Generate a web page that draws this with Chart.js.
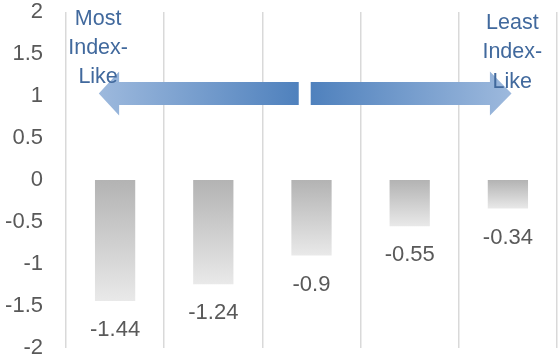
<!DOCTYPE html>
<html>
<head>
<meta charset="utf-8">
<script src="https://cdn.jsdelivr.net/npm/chart.js@4"></script>
<style>
  html, body { margin: 0; padding: 0; background: #fff; }
  #wrap { width: 558px; height: 358px; }
</style>
</head>
<body>
<div id="wrap"><canvas id="chart"></canvas></div>
<script>
const categories = ["Q1", "Q2", "Q3", "Q4", "Q5"];
const scores = [-1.44, -1.24, -0.9, -0.55, -0.34];
const yMin = -2;
const yMax = 2;
const yStep = 0.5;
const leftLabel = ["Most", "Index-", "Like"];
const rightLabel = ["Least", "Index-", "Like"];

const FONT = '"Liberation Sans", Arial, sans-serif';
const TEXT_GREY = "#595959";
const LABEL_BLUE = "#41699d";

// arrows are placed in axis units (x = category index, y = value)
const arrows = [
  { tip: -0.166, headBase: 0.041, tail: 1.87, y: 1.03, body: 0.137, head: 0.262 },
  { tip: 4.037, headBase: 3.817, tail: 1.992, y: 1.03, body: 0.137, head: 0.262 }
];
const captions = [
  { x: -0.173, lines: leftLabel, ys: [1.94, 1.59, 1.24] },
  { x: 4.045, lines: rightLabel, ys: [1.887, 1.542, 1.19] }
];

const overlay = {
  id: "overlay",
  afterDatasetsDraw(chart) {
    const { ctx, scales: { x, y } } = chart;
    ctx.save();

    // double arrow
    arrows.forEach((a) => {
      const tipX = x.getPixelForValue(a.tip);
      const baseX = x.getPixelForValue(a.headBase);
      const tailX = x.getPixelForValue(a.tail);
      const cy = y.getPixelForValue(a.y);
      const bh = y.getPixelForValue(a.y - a.body) - cy;
      const hh = y.getPixelForValue(a.y - a.head) - cy;
      const g = ctx.createLinearGradient(tipX, 0, tailX, 0);
      g.addColorStop(0, "#9db9dd");
      g.addColorStop(1, "#4f81bd");
      ctx.fillStyle = g;
      ctx.beginPath();
      ctx.moveTo(tailX, cy - bh);
      ctx.lineTo(baseX, cy - bh);
      ctx.lineTo(baseX, cy - hh);
      ctx.lineTo(tipX, cy);
      ctx.lineTo(baseX, cy + hh);
      ctx.lineTo(baseX, cy + bh);
      ctx.lineTo(tailX, cy + bh);
      ctx.closePath();
      ctx.fill();
    });

    // captions over the arrow ends
    ctx.font = "21.5px " + FONT;
    ctx.fillStyle = LABEL_BLUE;
    ctx.textAlign = "center";
    ctx.textBaseline = "alphabetic";
    captions.forEach((c) => {
      const px = x.getPixelForValue(c.x);
      c.lines.forEach((line, i) => {
        ctx.fillText(line, px, y.getPixelForValue(c.ys[i]) + 7.5);
      });
    });

    // value labels below each bar
    ctx.font = "22px " + FONT;
    ctx.fillStyle = TEXT_GREY;
    const meta = chart.getDatasetMeta(0);
    meta.data.forEach((bar, i) => {
      ctx.fillText(String(scores[i]), bar.x, y.getPixelForValue(scores[i]) + 35);
    });

    ctx.restore();
  }
};

new Chart(document.getElementById("chart"), {
  type: "bar",
  data: {
    labels: categories,
    datasets: [{
      data: scores,
      barPercentage: 0.41,
      categoryPercentage: 1,
      borderWidth: 0,
      backgroundColor: (context) => {
        const chart = context.chart;
        if (!chart.chartArea || context.dataIndex === undefined) return "#cccccc";
        const yScale = chart.scales.y;
        const top = yScale.getPixelForValue(0);
        const bottom = yScale.getPixelForValue(scores[context.dataIndex]);
        const g = chart.ctx.createLinearGradient(0, top, 0, bottom);
        g.addColorStop(0, "#b3b3b3");
        g.addColorStop(1, "#e9e9e9");
        return g;
      }
    }]
  },
  options: {
    responsive: true,
    maintainAspectRatio: false,
    animation: false,
    layout: { padding: { top: 12, bottom: 10, left: 0, right: 1 } },
    plugins: {
      legend: { display: false },
      tooltip: { enabled: false }
    },
    scales: {
      x: {
        offset: true,
        ticks: { display: false },
        grid: { color: "#d9d9d9", lineWidth: 1.5, drawTicks: false, offset: true },
        border: { display: false }
      },
      y: {
        min: yMin,
        max: yMax,
        afterFit: (scale) => {
          scale.width = 66;
          // tick padding would otherwise be added above and below the axis
          scale.paddingTop = 0;
          scale.paddingBottom = 0;
        },
        ticks: {
          stepSize: yStep,
          padding: 23,
          color: TEXT_GREY,
          font: { family: FONT, size: 22, lineHeight: 1 },
          callback: (v) => String(v)
        },
        grid: { display: false, drawTicks: false },
        border: { display: false }
      }
    }
  },
  plugins: [overlay]
});
</script>
</body>
</html>
